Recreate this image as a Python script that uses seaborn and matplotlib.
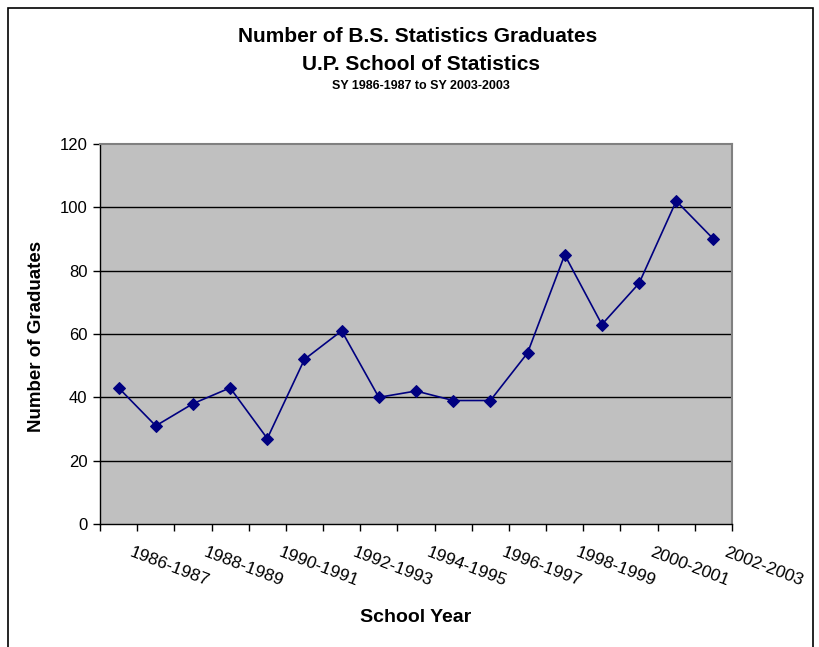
# Number of B.S. Statistics graduates per school year, U.P. School of Statistics
import matplotlib

matplotlib.use("Agg")
import matplotlib.pyplot as plt
import matplotlib.transforms as mtransforms
import numpy as np
import pandas as pd
import seaborn as sns

years = ["1986-1987", "1987-1988", "1988-1989", "1989-1990", "1990-1991", "1991-1992",
         "1992-1993", "1993-1994", "1994-1995", "1995-1996", "1996-1997", "1997-1998",
         "1998-1999", "1999-2000", "2000-2001", "2001-2002", "2002-2003"]
graduates = [43, 31, 38, 43, 27, 52, 61, 40, 42, 39, 39, 54, 85, 63, 76, 102, 90]
y_ticks = [0, 20, 40, 60, 80, 100, 120]

df = pd.DataFrame({"pos": np.arange(len(years)), "year": years, "grads": graduates})

sns.set_theme(style="white", rc={"text.color": "black", "xtick.color": "black",
                                 "ytick.color": "black", "axes.labelcolor": "black"})
plt.rcParams["font.family"] = ["Liberation Sans", "DejaVu Sans"]

fig = plt.figure(figsize=(8.19, 6.47), dpi=100)
ax = fig.add_axes([100 / 819, 1 - 524 / 647, 632 / 819, 380 / 647])
ax.set_facecolor("#c0c0c0")

# outer chart frame
fig.patches.append(plt.Rectangle((8 / 819, -0.1), 805 / 819, 1.1 - 8 / 647,
                                 transform=fig.transFigure, fill=False,
                                 edgecolor="black", linewidth=1.2))

for y in y_ticks[1:-1]:
    ax.axhline(y, color="black", linewidth=1, zorder=1)

sns.lineplot(data=df, x="pos", y="grads", ax=ax, color="#000080", linewidth=1.2,
             marker="D", markersize=6.5, markeredgecolor="#000080", zorder=3)

ax.set_xlim(-0.5, len(years) - 0.5)
ax.set_ylim(0, 120)
ax.set_yticks(y_ticks)
ax.tick_params(axis="y", direction="out", length=5, width=1, color="black",
               labelcolor="black", labelsize=12, pad=4, left=True)

# category boundaries get the ticks, every other year gets a label
ax.set_xticks(np.arange(-0.5, len(years)), minor=True)
ax.tick_params(axis="x", which="minor", direction="out", length=5, width=1,
               color="black", bottom=True)
label_pos = df["pos"][::2]
ax.set_xticks(label_pos)
ax.set_xticklabels(df["year"][::2], rotation=-21, ha="left", va="top", fontsize=12.6,
                   color="black")
ax.tick_params(axis="x", which="major", length=0, pad=15)
offset = mtransforms.ScaledTranslation(9 / 100, 0, fig.dpi_scale_trans)
for lab in ax.get_xticklabels():
    lab.set_transform(lab.get_transform() + offset)

for side in ["left", "bottom"]:
    ax.spines[side].set_color("black")
    ax.spines[side].set_linewidth(1)
for side in ["top", "right"]:
    ax.spines[side].set_color("#808080")
    ax.spines[side].set_linewidth(1.5)

ax.set_xlabel("")
ax.set_ylabel("")
fig.text(37 / 819, 1 - 336 / 647, "Number of Graduates", rotation=90, ha="center",
         va="center", fontsize=13.5, fontweight="bold", color="black")
fig.text(416 / 819, 1 - 618 / 647, "School Year", ha="center", va="center",
         fontsize=14, fontweight="bold", color="black")

fig.text(418 / 819, 1 - 37 / 647, "Number of B.S. Statistics Graduates", ha="center",
         va="center", fontsize=15, fontweight="bold", color="black")
fig.text(421 / 819, 1 - 64 / 647, "U.P. School of Statistics", ha="center",
         va="center", fontsize=15, fontweight="bold", color="black")
fig.text(421 / 819, 1 - 86 / 647, "SY 1986-1987 to SY 2003-2003", ha="center",
         va="center", fontsize=9, fontweight="bold", color="black")

plt.savefig("out.png", dpi=100)
